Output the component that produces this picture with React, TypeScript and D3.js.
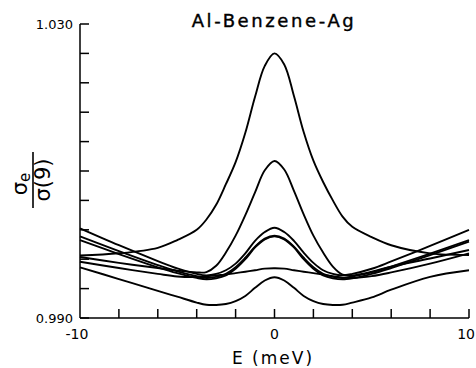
import React from "react";
import * as d3 from "d3";

const energies = [-10, -8, -6, -5, -4, -3.5, -3, -2.5, -2, -1.5, -1, -0.5, 0, 0.5, 1, 1.5, 2, 2.5, 3, 3.5, 4, 5, 6, 8, 10];

const curveA = [0.9985, 0.9988, 0.99955, 1.0006, 1.002, 1.0034, 1.0054, 1.0082, 1.0112, 1.0152, 1.0201, 1.0243, 1.026, 1.0245, 1.0202, 1.0153, 1.0114, 1.0085, 1.006, 1.0038, 1.0024, 1.001, 0.9999, 0.9988, 0.99857];
const curveB = [0.9983, 0.9975, 0.9968, 0.99645, 0.9962, 0.99625, 0.9971, 0.9989, 1.0012, 1.004, 1.0071, 1.0101, 1.01136, 1.0102, 1.0073, 1.0041, 1.0012, 0.9989, 0.997, 0.9959, 0.9958, 0.9963, 0.997, 0.9981, 0.99925];
const curveC = [1.0022, 0.9999, 0.99775, 0.99675, 0.996, 0.9958, 0.996, 0.9965, 0.9974, 0.9988, 1.0005, 1.0017, 1.00228, 1.0017, 1.0005, 0.9989, 0.9975, 0.9965, 0.996, 0.9958, 0.996, 0.9967, 0.9977, 0.9998, 1.002];
const curveD1 = [1.0011, 0.9991, 0.9972, 0.99635, 0.9957, 0.99545, 0.9956, 0.996, 0.9969, 0.9982, 0.9997, 1.0008, 1.0012, 1.0008, 0.9997, 0.9982, 0.9969, 0.996, 0.9956, 0.99545, 0.99565, 0.9962, 0.997, 0.99875, 1.0006];
const curveD2 = [1.0006, 0.9987, 0.9969, 0.9961, 0.99545, 0.99525, 0.9954, 0.9958, 0.9967, 0.998, 0.9996, 1.0007, 1.0011, 1.0007, 0.9996, 0.998, 0.9967, 0.9958, 0.9954, 0.99525, 0.9954, 0.996, 0.9968, 0.99855, 1.0004];
const curveE = [0.99766, 0.9968, 0.996, 0.99565, 0.99558, 0.99565, 0.9958, 0.9959, 0.9961, 0.9963, 0.9965, 0.99672, 0.99676, 0.99672, 0.9965, 0.9963, 0.9961, 0.9959, 0.9957, 0.9955, 0.99545, 0.9957, 0.9962, 0.9974, 0.9988];
const curveF = [0.9969, 0.9953, 0.9937, 0.9929, 0.9921, 0.9918, 0.99177, 0.9919, 0.9923, 0.993, 0.9941, 0.9951, 0.99554, 0.9951, 0.9941, 0.993, 0.9923, 0.9919, 0.99177, 0.9918, 0.9921, 0.9928, 0.99385, 0.9956, 0.9965];

const allCurves = [curveA, curveB, curveC, curveD1, curveD2, curveE, curveF];

const yTickValues = [0.99, 0.994, 0.998, 1.002, 1.006, 1.01, 1.014, 1.018, 1.022, 1.026, 1.03];
const yTickLabels = [{ v: 0.99, t: "0.990" }, { v: 1.03, t: "1.030" }];
const xTickValues = [-8, -6, -4, -2, 0, 2, 4, 6, 8, 10];
const xTickLabels = [
  { v: -10, t: "-10", anchor: "middle", dx: -3 },
  { v: 0, t: "0", anchor: "middle", dx: 0 },
  { v: 10, t: "10", anchor: "end", dx: 6 },
];

const titleText = "Al-Benzene-Ag";
const xTitle = "E (meV)";

export default function App() {
  const W = 476, H = 368;
  const x = d3.scaleLinear().domain([-10, 10]).range([80, 469]);
  const y = d3.scaleLinear().domain([0.99, 1.03]).range([318, 24]);
  const line = d3
    .line<number>()
    .x((_, i) => x(energies[i]))
    .y((d) => y(d))
    .curve(d3.curveCatmullRom.alpha(0.5));
  const font = "'DejaVu Sans', 'Liberation Sans', sans-serif";
  return (
    <svg width={W} height={H} style={{ position: "fixed", left: 0, top: 0, background: "#fff" }} fontFamily={font}>
      <rect width={W} height={H} fill="#fff" />
      <g fill="none" stroke="#000" strokeWidth={1.9} strokeLinejoin="round">
        {allCurves.map((c, i) => (
          <path key={i} d={line(c) || ""} />
        ))}
      </g>
      <g stroke="#000" strokeWidth={1.5} fill="none">
        <line x1={x(-10)} x2={x(-10)} y1={y(1.03)} y2={y(0.99)} />
        <line x1={x(-10)} x2={x(10)} y1={y(0.99)} y2={y(0.99)} />
        {yTickValues.map((v) => (
          <line key={"yt" + v} x1={x(-10)} x2={x(-10) + 9} y1={y(v)} y2={y(v)} />
        ))}
        {xTickValues.map((v) => (
          <line key={"xt" + v} x1={x(v)} x2={x(v)} y1={y(0.99)} y2={y(0.99) - 9} />
        ))}
      </g>
      {yTickLabels.map((d) => (
        <text key={d.t} x={x(-10) - 7} y={y(d.v) + 5} fontSize={13} textAnchor="end">
          {d.t}
        </text>
      ))}
      {xTickLabels.map((d) => (
        <text key={d.t} x={x(d.v) + d.dx} y={339} fontSize={14} textAnchor={d.anchor}>
          {d.t}
        </text>
      ))}
      <text x={273} y={364} fontSize={17} letterSpacing={2} textAnchor="middle">
        {xTitle}
      </text>
      <text x={274} y={27} fontSize={18} letterSpacing={2.6} textAnchor="middle" stroke="#000" strokeWidth={0.4}>
        {titleText}
      </text>
      <g transform="translate(33,180) rotate(-90)">
        <text x={-4} y={-6} fontSize={21} textAnchor="middle">
          σ<tspan fontSize={15} dy={3}>e</tspan>
        </text>
        <line x1={-28} x2={28} y1={0} y2={0} stroke="#000" strokeWidth={1.6} />
        <text x={0} y={17} fontSize={21} textAnchor="middle">
          σ(9)
        </text>
      </g>
    </svg>
  );
}
